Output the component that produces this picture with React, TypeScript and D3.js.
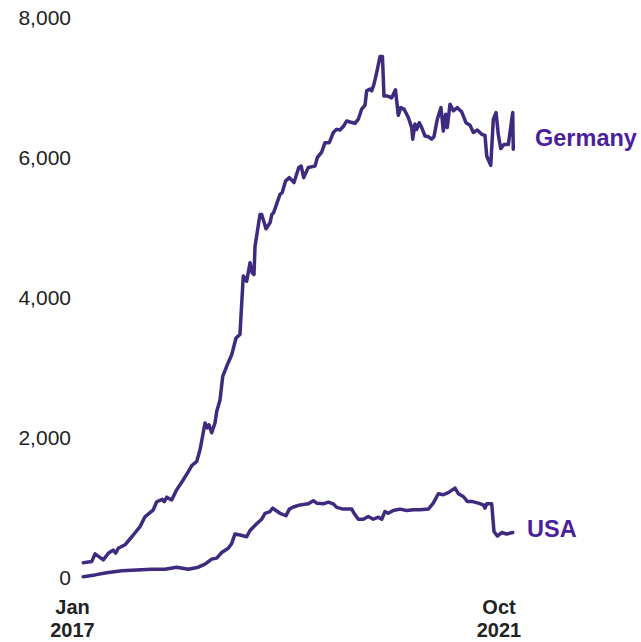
import React from "react";
import * as d3 from "d3";

// time expressed as decimal years
const germanyT = [2017.12,2017.214,2017.251,2017.343,2017.399,2017.454,2017.481,2017.51,2017.585,2017.677,2017.752,2017.807,2017.9,2017.938,2018.0,2018.022,2018.049,2018.105,2018.16,2018.234,2018.29,2018.328,2018.383,2018.42,2018.476,2018.501,2018.52,2018.55,2018.587,2018.606,2018.643,2018.673,2018.717,2018.773,2018.821,2018.865,2018.902,2018.94,2018.977,2019.001,2019.021,2019.033,2019.088,2019.107,2019.155,2019.2,2019.22,2019.24,2019.311,2019.335,2019.372,2019.415,2019.467,2019.52,2019.547,2019.575,2019.626,2019.701,2019.726,2019.775,2019.812,2019.86,2019.905,2019.942,2019.979,2020.016,2020.054,2020.091,2020.146,2020.183,2020.221,2020.258,2020.276,2020.313,2020.332,2020.358,2020.388,2020.425,2020.452,2020.469,2020.511,2020.555,2020.597,2020.628,2020.655,2020.692,2020.74,2020.778,2020.789,2020.814,2020.833,2020.862,2020.889,2020.926,2020.963,2021.0,2021.026,2021.063,2021.104,2021.13,2021.156,2021.174,2021.204,2021.241,2021.286,2021.334,2021.382,2021.427,2021.464,2021.508,2021.557,2021.594,2021.613,2021.658,2021.687,2021.717,2021.742,2021.769,2021.806,2021.854,2021.903,2021.909];
const germanyV = [205,220,330,245,340,385,340,410,460,600,720,860,960,1075,1110,1075,1140,1100,1245,1390,1505,1590,1650,1815,2200,2130,2175,2060,2200,2365,2530,2865,3010,3175,3415,3465,4300,4225,4490,4345,4320,4725,5180,5180,4975,5060,5180,5205,5465,5490,5655,5705,5635,5850,5870,5705,5850,5870,5990,6070,6205,6205,6350,6395,6385,6435,6515,6500,6480,6540,6685,6740,6945,6970,6945,7040,7210,7435,7435,6870,6870,6845,6960,6595,6705,6685,6565,6420,6255,6470,6395,6490,6420,6300,6290,6255,6290,6540,6705,6370,6610,6420,6755,6660,6705,6645,6490,6455,6350,6385,6325,6310,6015,5880,6540,6635,6325,6120,6180,6180,6635,6110];

const usaT = [2017.12,2017.251,2017.381,2017.548,2017.715,2017.882,2018.03,2018.16,2018.29,2018.401,2018.476,2018.55,2018.606,2018.662,2018.735,2018.773,2018.81,2018.865,2018.94,2018.977,2019.051,2019.107,2019.144,2019.2,2019.23,2019.266,2019.311,2019.378,2019.415,2019.459,2019.534,2019.626,2019.682,2019.72,2019.793,2019.849,2019.905,2019.942,2020.016,2020.11,2020.135,2020.183,2020.239,2020.294,2020.35,2020.406,2020.444,2020.48,2020.517,2020.573,2020.647,2020.722,2020.796,2020.87,2020.963,2021.018,2021.074,2021.13,2021.185,2021.26,2021.297,2021.352,2021.397,2021.446,2021.519,2021.575,2021.594,2021.613,2021.669,2021.694,2021.731,2021.78,2021.835,2021.903];
const usaV = [5,30,60,90,100,110,110,140,110,140,185,255,270,350,410,480,615,600,575,665,760,825,910,935,985,950,910,875,970,1000,1030,1045,1090,1055,1045,1070,1045,995,970,970,910,825,825,865,825,855,825,935,910,950,970,950,960,960,970,1055,1190,1175,1205,1270,1190,1150,1080,1080,1055,1030,985,1045,1045,650,585,635,615,635];

const yTicks = [0, 2000, 4000, 6000, 8000];
const xTicks = [
  { t: 2017.0, l1: "Jan", l2: "2017" },
  { t: 2021.75, l1: "Oct", l2: "2021" },
];
const seriesLabels = [
  { name: "Germany", x: 535, y: 146 },
  { name: "USA", x: 527, y: 537 },
];

export default function App() {
  const W = 641, H = 642;
  const x = d3.scaleLinear().domain([2017.0, 2021.75]).range([72.5, 499]);
  const y = d3.scaleLinear().domain([0, 8000]).range([577, 17]);
  const line = d3
    .line<[number, number]>()
    .x((d) => x(d[0]))
    .y((d) => y(d[1]));
  const g = germanyT.map((t, i) => [t, germanyV[i]] as [number, number]);
  const u = usaT.map((t, i) => [t, usaV[i]] as [number, number]);
  const lineColor = "#3e2a7e";
  const labelColor = "#4a1f9c";
  const font = "'Liberation Sans', Arial, sans-serif";
  return (
    <svg
      width={W}
      height={H}
      style={{ position: "absolute", left: 0, top: 0, background: "#fff" }}
    >
      {yTicks.map((v) => (
        <text
          key={v}
          x={71}
          y={y(v) + 8}
          textAnchor="end"
          fontFamily={font}
          fontSize={21}
          fill="#222"
        >
          {d3.format(",")(v)}
        </text>
      ))}
      {xTicks.map((d) => (
        <g key={d.l2} fontFamily={font} fontSize={20} fontWeight="bold" fill="#222" textAnchor="middle">
          <text x={x(d.t)} y={614}>{d.l1}</text>
          <text x={x(d.t)} y={637}>{d.l2}</text>
        </g>
      ))}
      <path d={line(u) || ""} fill="none" stroke={lineColor} strokeWidth={3.5} strokeLinejoin="round" strokeLinecap="round" />
      <path d={line(g) || ""} fill="none" stroke={lineColor} strokeWidth={3.5} strokeLinejoin="round" strokeLinecap="round" />
      {seriesLabels.map((s) => (
        <text key={s.name} x={s.x} y={s.y} fontFamily={font} fontSize={23.5} fontWeight="bold" fill={labelColor}>
          {s.name}
        </text>
      ))}
    </svg>
  );
}
